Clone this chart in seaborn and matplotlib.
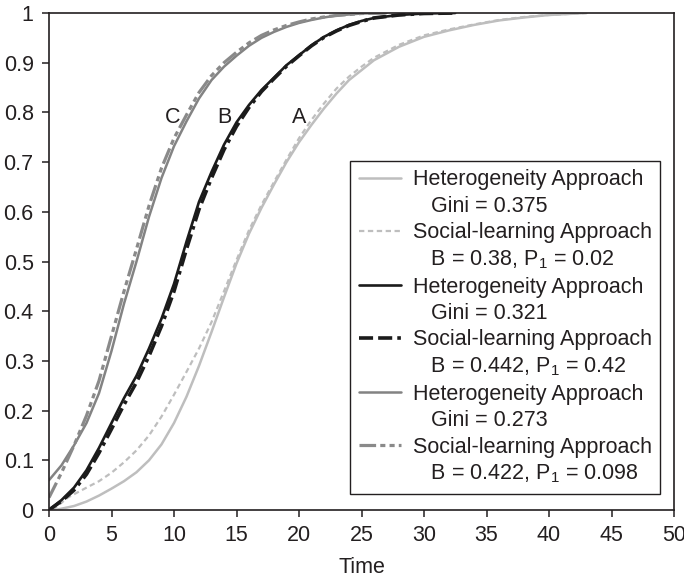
import matplotlib
matplotlib.use("Agg")
import matplotlib.pyplot as plt
from matplotlib.lines import Line2D
import seaborn as sns
import pandas as pd

# Cumulative adoption curves: heterogeneity vs social-learning fits
a_het_t = [0.5, 2, 3, 4, 5, 6, 7, 8, 9, 10, 11, 12, 13, 14, 15, 16, 17, 18, 19, 20,
           21, 22, 23, 24, 25, 26, 28, 30, 32, 34, 36, 38, 40, 43]
a_het_y = [0.0, 0.008, 0.017, 0.029, 0.043, 0.058, 0.076, 0.1, 0.132, 0.175, 0.228,
           0.29, 0.358, 0.428, 0.496, 0.556, 0.608, 0.655, 0.7, 0.74, 0.775, 0.808,
           0.838, 0.865, 0.885, 0.905, 0.932, 0.952, 0.965, 0.976, 0.985, 0.991,
           0.996, 1.0]

a_soc_t = [0.3, 1.5, 3, 4, 5, 6, 7, 8, 9, 10, 11, 12, 13, 14, 15, 16, 17, 18, 19, 20,
           21, 22, 23, 24, 25, 26, 28, 30, 32, 34, 36, 38, 40, 43]
a_soc_y = [0.0, 0.025, 0.045, 0.058, 0.075, 0.096, 0.12, 0.15, 0.188, 0.232, 0.278,
           0.325, 0.378, 0.44, 0.503, 0.563, 0.614, 0.66, 0.705, 0.748, 0.785, 0.818,
           0.848, 0.872, 0.892, 0.91, 0.936, 0.955, 0.967, 0.977, 0.986, 0.992,
           0.996, 1.0]

b_het_t = [0, 1, 2, 3, 4, 5, 6, 7, 8, 9, 10, 11, 12, 13, 14, 15, 16, 17, 18, 19, 20,
           21, 22, 23, 24, 25, 26, 28, 30, 32.5]
b_het_y = [0.0, 0.02, 0.045, 0.08, 0.125, 0.175, 0.225, 0.27, 0.325, 0.385, 0.455, 0.54,
           0.62, 0.68, 0.735, 0.78, 0.815, 0.845, 0.87, 0.895, 0.915, 0.935, 0.952,
           0.965, 0.976, 0.984, 0.99, 0.996, 0.999, 1.0]

b_soc_t = b_het_t
b_soc_y = [0.0, 0.018, 0.04, 0.072, 0.115, 0.163, 0.212, 0.257, 0.31, 0.37, 0.44, 0.525,
           0.605, 0.668, 0.725, 0.772, 0.81, 0.842, 0.868, 0.893, 0.914, 0.934, 0.951,
           0.964, 0.975, 0.983, 0.99, 0.996, 0.999, 1.0]

c_het_t = [0, 1, 2, 3, 4, 5, 6, 7, 8, 9, 10, 11, 12, 13, 14, 15, 16, 17, 18, 19, 20,
           21, 22, 23, 25, 27]
c_het_y = [0.06, 0.09, 0.13, 0.175, 0.235, 0.32, 0.415, 0.5, 0.59, 0.668, 0.732, 0.782,
           0.828, 0.865, 0.892, 0.914, 0.934, 0.95, 0.962, 0.972, 0.98, 0.986, 0.991,
           0.995, 0.999, 1.0]

c_soc_t = c_het_t
c_soc_y = [0.025, 0.075, 0.13, 0.19, 0.26, 0.35, 0.44, 0.525, 0.612, 0.688, 0.748, 0.795,
           0.84, 0.874, 0.9, 0.921, 0.94, 0.955, 0.966, 0.975, 0.982, 0.988, 0.992,
           0.995, 0.999, 1.0]

legend_main = ["Heterogeneity Approach", "Social-learning Approach"] * 3
legend_params = ["Gini = 0.375", r"B = 0.38, $\mathregular{P_1}$ = 0.02",
                 "Gini = 0.321", r"B = 0.442, $\mathregular{P_1}$ = 0.42",
                 "Gini = 0.273", r"B = 0.422, $\mathregular{P_1}$ = 0.098"]

curve_letters = ["A", "B", "C"]
letter_t = [20.0, 14.0, 9.9]
letter_y = [0.79, 0.79, 0.79]

x_ticks = list(range(0, 51, 5))
y_ticks = [0, 0.1, 0.2, 0.3, 0.4, 0.5, 0.6, 0.7, 0.8, 0.9, 1]
y_tick_labels = ["0", "0.1", "0.2", "0.3", "0.4", "0.5", "0.6", "0.7", "0.8", "0.9", "1"]

sns.set_theme(style="ticks")
plt.rcParams["font.family"] = ["Liberation Sans", "DejaVu Sans"]
plt.rcParams["mathtext.fontset"] = "custom"
plt.rcParams["mathtext.rm"] = "Liberation Sans"
ink = "#231f20"
fs = 15.5

series = [
    (a_het_t, a_het_y, "#bebebe", 1.8, "-"),
    (a_soc_t, a_soc_y, "#bebebe", 1.6, (0, (2.4, 1.6))),
    (b_het_t, b_het_y, "#1b1b1b", 1.9, "-"),
    (b_soc_t, b_soc_y, "#1b1b1b", 2.6, (0, (3.9, 1.4, 3.9, 1.4, 1.0, 1.4))),
    (c_het_t, c_het_y, "#838383", 1.8, "-"),
    (c_soc_t, c_soc_y, "#8a8a8a", 2.3, (0, (5.2, 1.3, 1.6, 1.3, 1.6, 1.3))),
]

fig = plt.figure(figsize=(6.84, 5.81), dpi=100)
ax = fig.add_axes([49 / 684, 71 / 581, 625 / 684, 497 / 581])

handles = []
for t, y, color, lw, ls in series:
    df = pd.DataFrame({"Time": t, "share": y})
    sns.lineplot(data=df, x="Time", y="share", ax=ax, color=color, lw=lw,
                 linestyle=ls, errorbar=None, sort=True)
    handles.append(Line2D([], [], color=color, lw=lw, linestyle=ls))

for letter, t, y in zip(curve_letters, letter_t, letter_y):
    ax.text(t, y, letter, ha="center", va="center", fontsize=fs, color=ink)

ax.set_xlim(0, 50)
ax.set_ylim(0, 1)
ax.set_xticks(x_ticks)
ax.set_yticks(y_ticks)
ax.set_yticklabels(y_tick_labels)
ax.set_xlabel("Time", fontsize=fs, color=ink, labelpad=8)
ax.set_ylabel("")
ax.tick_params(axis="both", labelsize=fs, colors=ink, length=5, width=1.1,
               direction="out", pad=6)
for side in ["left", "right", "top", "bottom"]:
    ax.spines[side].set_visible(True)
    ax.spines[side].set_linewidth(1.2)
    ax.spines[side].set_color(ink)

blank = Line2D([], [], color="none")
leg_handles, leg_labels = [], []
for h, main, param in zip(handles, legend_main, legend_params):
    leg_handles += [h, blank]
    leg_labels += [main, "   " + param]

leg = ax.legend(leg_handles, leg_labels, loc="lower right",
                bbox_to_anchor=(0.978, 0.032), borderaxespad=0, fontsize=fs,
                frameon=True, fancybox=False, edgecolor=ink, framealpha=1,
                handlelength=1.95, handletextpad=0.56, labelspacing=0.25,
                borderpad=0.4)
leg.get_frame().set_linewidth(1.0)
for txt in leg.get_texts():
    txt.set_color(ink)

fig.savefig("out.png", dpi=100)
